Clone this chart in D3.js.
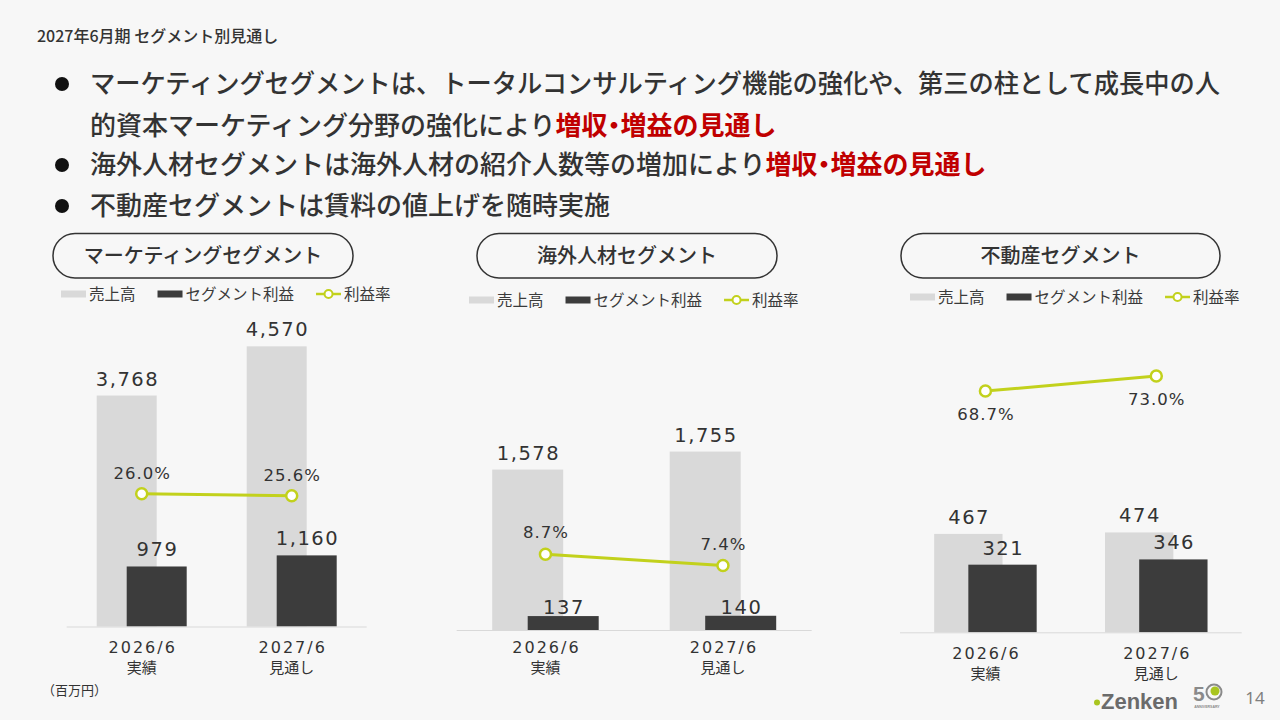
<!DOCTYPE html>
<html>
<head>
<meta charset="utf-8">
<script src="https://cdn.jsdelivr.net/npm/d3@7"></script>
<style>
  body { margin: 0; background: #f7f7f7; }
  svg { display: block; }
</style>
</head>
<body>
<svg id="chart" width="1280" height="720"></svg>
<script>
// data
const periods = ["2026/6", "2027/6"];
const periodNotes = ["実績", "見通し"];
const segments = ["マーケティングセグメント", "海外人材セグメント", "不動産セグメント"];
const sales = [[3768, 4570], [1578, 1755], [467, 474]];
const profit = [[979, 1160], [137, 140], [321, 346]];
const rate = [[26.0, 25.6], [8.7, 7.4], [68.7, 73.0]];
const legendNames = ["売上高", "セグメント利益", "利益率"];

const title = "2027年6月期 セグメント別見通し";
const bullets = [
  [{t: "マーケティングセグメントは、トータルコンサルティング機能の強化や、第三の柱として成長中の人"}],
  [{t: "的資本マーケティング分野の強化により"}, {t: "増収・増益の見通し", red: true}],
  [{t: "海外人材セグメントは海外人材の紹介人数等の増加により"}, {t: "増収・増益の見通し", red: true}],
  [{t: "不動産セグメントは賃料の値上げを随時実施"}]
];

// layout of each panel
const panels = [
  {x0: 66.7, x1: 366.7, base: 626.5, top: 320, salesMax: 5000, rateMax: 60, rateDy: -15, profitDy: -10, pill: [53, 353], legendX: 61, legendY: 294, tickDy: 26},
  {x0: 456.7, x1: 811.7, base: 630, top: 325, salesMax: 3000, rateMax: 35, rateDy: -16, profitDy: -2, pill: [477, 777], legendX: 469, legendY: 300, tickDy: 23},
  {x0: 900, x1: 1241.7, base: 632.3, top: 316.3, salesMax: 1500, rateMax: 90, rateDy: 29, profitDy: -10, pill: [901, 1220], legendX: 910, legendY: 297, tickDy: 27}
];

const cSales = "#d9d9d9", cProfit = "#3c3c3c", cLine = "#c2d11c", cText = "#333333";
const jp = "'Noto Sans CJK JP', 'Noto Sans', sans-serif";
const num = "'DejaVu Sans', sans-serif";

const svg = d3.select("#chart");
svg.append("rect").attr("width", 1280).attr("height", 720).attr("fill", "#f7f7f7");

// title
svg.append("text")
  .attr("x", 37).attr("y", 42)
  .attr("font-family", jp).attr("font-size", 16).attr("font-weight", 500)
  .attr("fill", cText)
  .text(title);

// bullet text
const lineY = [93, 135, 174, 215];
bullets.forEach((parts, i) => {
  if (i != 1) {
    svg.append("circle").attr("cx", 62).attr("cy", lineY[i] - 9).attr("r", 7).attr("fill", "#111");
  }
  var t = svg.append("text")
    .attr("x", 90).attr("y", lineY[i])
    .attr("font-family", jp).attr("font-size", 26).attr("font-weight", 500)
    .attr("fill", cText);
  parts.forEach((p) => {
    var s = t.append("tspan")
      .attr("fill", p.red ? "#c00000" : cText)
      .attr("font-weight", p.red ? 700 : 500)
      .text(p.t);
    // half-width punctuation in the red phrase
    if (p.red) s.style("font-feature-settings", "'halt'");
  });
  if (i == 0) t.attr("textLength", 1130).attr("lengthAdjust", "spacingAndGlyphs");
});

panels.forEach((p, k) => {
  var g = svg.append("g");

  // header pill
  g.append("rect")
    .attr("x", p.pill[0]).attr("y", 233.5)
    .attr("width", p.pill[1] - p.pill[0]).attr("height", 44.5)
    .attr("rx", 22).attr("ry", 22)
    .attr("fill", "#f7f7f7").attr("stroke", "#333").attr("stroke-width", 1.5);
  g.append("text")
    .attr("x", (p.pill[0] + p.pill[1]) / 2).attr("y", 263)
    .attr("text-anchor", "middle")
    .attr("font-family", jp).attr("font-size", 20).attr("font-weight", 500)
    .attr("fill", cText)
    .text(segments[k]);

  // legend
  var lx = p.legendX;
  legendNames.forEach((name, i) => {
    if (i == 2) {
      g.append("line").attr("x1", lx).attr("x2", lx + 25)
        .attr("y1", p.legendY).attr("y2", p.legendY)
        .attr("stroke", cLine).attr("stroke-width", 2.5);
      g.append("circle").attr("cx", lx + 12.5).attr("cy", p.legendY).attr("r", 4)
        .attr("fill", "#fff").attr("stroke", cLine).attr("stroke-width", 2);
    } else {
      g.append("rect").attr("x", lx).attr("y", p.legendY - 3.5)
        .attr("width", 25).attr("height", 7)
        .attr("fill", i == 0 ? cSales : cProfit);
    }
    var lt = g.append("text")
      .attr("x", lx + 28).attr("y", p.legendY + 5.5)
      .attr("font-family", jp).attr("font-size", 15.5)
      .attr("fill", "#3a3a3a")
      .text(name);
    lx += 28 + lt.node().getComputedTextLength() + 22;
  });

  // scales
  var x = d3.scalePoint().domain(periods).range([p.x0, p.x1]).padding(0.5);
  var step = x.step();
  var bw = step * 0.4;
  var y = d3.scaleLinear().domain([0, p.salesMax]).range([p.base, p.top]);
  var y2 = d3.scaleLinear().domain([0, p.rateMax]).range([p.base, p.top]);

  // bars
  g.selectAll(".sales")
    .data(periods)
    .enter().append("rect")
    .attr("x", (d) => x(d) - bw / 4 - bw / 2)
    .attr("width", bw)
    .attr("y", (d, i) => y(sales[k][i]))
    .attr("height", (d, i) => p.base - y(sales[k][i]))
    .attr("fill", cSales);

  g.selectAll(".profit")
    .data(periods)
    .enter().append("rect")
    .attr("x", (d) => x(d) + bw / 4 - bw / 2)
    .attr("width", bw)
    .attr("y", (d, i) => y(profit[k][i]))
    .attr("height", (d, i) => p.base - y(profit[k][i]))
    .attr("fill", cProfit);

  // baseline
  g.append("line")
    .attr("x1", p.x0).attr("x2", p.x1)
    .attr("y1", p.base + 0.5).attr("y2", p.base + 0.5)
    .attr("stroke", "#d9d9d9").attr("stroke-width", 1);

  // rate line
  var line = d3.line()
    .x((d, i) => x(periods[i]))
    .y((d) => y2(d));
  g.append("path")
    .datum(rate[k])
    .attr("d", line)
    .attr("fill", "none").attr("stroke", cLine).attr("stroke-width", 3);
  g.selectAll(".dot")
    .data(rate[k])
    .enter().append("circle")
    .attr("cx", (d, i) => x(periods[i]))
    .attr("cy", (d) => y2(d))
    .attr("r", 5.5)
    .attr("fill", "#fff").attr("stroke", cLine).attr("stroke-width", 2.5);

  // value labels
  g.selectAll(".salesLabel")
    .data(sales[k])
    .enter().append("text")
    .attr("x", (d, i) => x(periods[i]) - bw / 4 + 0.75)
    .attr("y", (d) => y(d) - 10)
    .attr("text-anchor", "middle")
    .attr("font-family", num).attr("font-size", 19.5).attr("letter-spacing", 1.5)
    .attr("fill", cText)
    .text((d) => d3.format(",")(d));

  g.selectAll(".profitLabel")
    .data(profit[k])
    .enter().append("text")
    .attr("x", (d, i) => x(periods[i]) + bw / 4 + 0.75)
    .attr("y", (d) => y(d) + p.profitDy)
    .attr("text-anchor", "middle")
    .attr("font-family", num).attr("font-size", 19.5).attr("letter-spacing", 1.5)
    .attr("fill", cText)
    .text((d) => d3.format(",")(d));

  g.selectAll(".rateLabel")
    .data(rate[k])
    .enter().append("text")
    .attr("x", (d, i) => x(periods[i]) + 0.5)
    .attr("y", (d) => y2(d) + p.rateDy)
    .attr("text-anchor", "middle")
    .attr("font-family", num).attr("font-size", 16.5).attr("letter-spacing", 1)
    .attr("fill", cText)
    .text((d) => d.toFixed(1) + "%");

  // category labels
  g.selectAll(".period")
    .data(periods)
    .enter().append("text")
    .attr("x", (d) => x(d) + 1)
    .attr("y", p.base + p.tickDy)
    .attr("text-anchor", "middle")
    .attr("font-family", num).attr("font-size", 16).attr("letter-spacing", 2)
    .attr("fill", cText)
    .text((d) => d);

  g.selectAll(".note")
    .data(periodNotes)
    .enter().append("text")
    .attr("x", (d, i) => x(periods[i]))
    .attr("y", p.base + p.tickDy + 20)
    .attr("text-anchor", "middle")
    .attr("font-family", jp).attr("font-size", 15)
    .attr("fill", cText)
    .text((d) => d);
});

// unit note
svg.append("text")
  .attr("x", 42).attr("y", 695)
  .attr("font-family", jp).attr("font-size", 13)
  .attr("fill", cText)
  .text("（百万円）");

// logo
svg.append("circle").attr("cx", 1097).attr("cy", 702.5).attr("r", 3).attr("fill", "#a9c51f");
svg.append("text")
  .attr("x", 1101).attr("y", 708.5)
  .attr("font-family", "'Liberation Sans', sans-serif").attr("font-size", 22).attr("font-weight", 700)
  .attr("fill", "#6b6b6b")
  .text("Zenken");
svg.append("text")
  .attr("x", 1193).attr("y", 701)
  .attr("font-family", "'Liberation Sans', sans-serif").attr("font-size", 21).attr("font-weight", 700)
  .attr("fill", "#8a8a8a")
  .text("5");
svg.append("circle").attr("cx", 1214).attr("cy", 692).attr("r", 7.5)
  .attr("fill", "#f7f7f7").attr("stroke", "#8a8a8a").attr("stroke-width", 2);
svg.append("circle").attr("cx", 1215).attr("cy", 691).attr("r", 4.5).attr("fill", "#a9c51f");
svg.append("text")
  .attr("x", 1207).attr("y", 708)
  .attr("text-anchor", "middle")
  .attr("font-family", "'Liberation Sans', sans-serif").attr("font-size", 3.5).attr("font-weight", 700)
  .attr("fill", "#8a8a8a")
  .text("ANNIVERSARY");

// page number
svg.append("text")
  .attr("x", 1255).attr("y", 704)
  .attr("text-anchor", "middle")
  .attr("font-family", "'Noto Sans', sans-serif").attr("font-size", 17)
  .attr("fill", "#7f7f7f")
  .text("14");
</script>
</body>
</html>
